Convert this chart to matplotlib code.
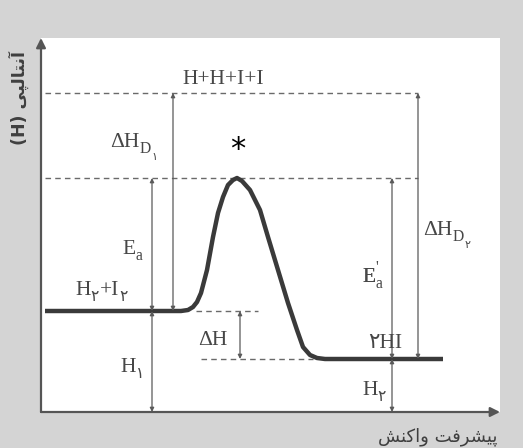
import matplotlib.pyplot as plt

# energy levels (arbitrary units, 0 = bottom of axis)
E_ATOMS = 319      # H+H+I+I
E_TS = 234         # transition state
E_REACT = 101      # H2 + I2
E_PROD = 53        # 2HI
Y_TOP = 374
X_END = 459

# reaction profile
curve_x = [4, 140, 147, 152, 156, 160, 166, 172, 177, 182, 187, 192, 196, 201, 209,
           219, 227, 237, 247, 256, 262, 269, 276, 284, 402]
curve_y = [101, 101, 102, 105, 110, 119, 142, 175, 199, 215, 227, 232, 234, 231, 222,
           202, 175, 142, 109, 82, 65, 57, 54, 53, 53]

# x positions of the vertical arrows
X_EA, X_HD1, X_DH, X_EA2, X_HD2 = 111, 132, 199, 351, 377

SERIF = ["Liberation Serif", "DejaVu Sans"]
TXT = "#474747"
DASH = "#6a6a6a"

FORMS = {
    "آ": ("\uFE81", "\uFE82", None, None),
    "ا": ("\uFE8D", "\uFE8E", None, None),
    "ن": ("\uFEE5", "\uFEE6", "\uFEE7", "\uFEE8"),
    "ت": ("\uFE95", "\uFE96", "\uFE97", "\uFE98"),
    "ل": ("\uFEDD", "\uFEDE", "\uFEDF", "\uFEE0"),
    "پ": ("\uFB56", "\uFB57", "\uFB58", "\uFB59"),
    "ی": ("\uFBFC", "\uFBFD", "\uFBFE", "\uFBFF"),
    "ش": ("\uFEB5", "\uFEB6", "\uFEB7", "\uFEB8"),
    "ر": ("\uFEAD", "\uFEAE", None, None),
    "ف": ("\uFED1", "\uFED2", "\uFED3", "\uFED4"),
    "و": ("\uFEED", "\uFEEE", None, None),
    "ک": ("\uFB8E", "\uFB8F", "\uFB90", "\uFB91"),
}


def shape(text):
    # crude arabic-script shaping + visual reorder (matplotlib has no bidi)
    out = []
    for i, c in enumerate(text):
        if c not in FORMS:
            out.append(c)
            continue
        iso, fin, ini, med = FORMS[c]
        prev = text[i - 1] if i > 0 else None
        nxt = text[i + 1] if i + 1 < len(text) else None
        jp = prev in FORMS and FORMS[prev][2] is not None
        jn = ini is not None and nxt in FORMS
        out.append(med if jp and jn else fin if jp else ini if jn else iso)
    return "".join(out)[::-1]


fig = plt.figure(figsize=(5.23, 4.48), dpi=100, facecolor="#d4d4d4")
ax = fig.add_axes([41 / 523, 36 / 448, 459 / 523, 374 / 448])
ax.set_facecolor("white")
ax.set_xlim(0, X_END)
ax.set_ylim(0, Y_TOP)
for sp in ax.spines.values():
    sp.set_visible(False)
ax.set_xticks([])
ax.set_yticks([])


def label(x, y, parts, size=15.5):
    t = ax.text(x, y, parts[0][0], fontsize=size, family=SERIF, color=TXT, va="baseline", ha="left")
    prev = t
    for s, lvl in parts[1:]:
        fs = size * (0.72 ** abs(lvl))
        dy = {0: 0, 1: -4.5, 2: -9, -1: 7}[lvl]
        prev = ax.annotate(s, xy=(1, y), xycoords=(prev, "data"), xytext=(0.3, dy),
                           textcoords="offset points", fontsize=fs, family=SERIF,
                           color=TXT, va="baseline", ha="left")
    return t


def varrow(x, y0, y1):
    ax.annotate("", xy=(x, y1), xytext=(x, y0),
                arrowprops=dict(arrowstyle="<|-|>", color="#5a5a5a", lw=0.9,
                                mutation_scale=6, shrinkA=0, shrinkB=0))


# axes with arrow heads
ax.annotate("", xy=(0, Y_TOP), xytext=(0, 0), annotation_clip=False,
            arrowprops=dict(arrowstyle="-|>", color="#555555", lw=1.6, mutation_scale=14, shrinkA=0, shrinkB=0))
ax.annotate("", xy=(X_END, 0), xytext=(0, 0), annotation_clip=False,
            arrowprops=dict(arrowstyle="-|>", color="#555555", lw=1.6, mutation_scale=14, shrinkA=0, shrinkB=0))

# dashed guide lines
ax.plot([4, X_HD2], [E_ATOMS, E_ATOMS], ls=(0, (4, 3)), color=DASH, lw=1)
ax.plot([4, X_HD2], [E_TS, E_TS], ls=(0, (4, 3)), color=DASH, lw=1)
ax.plot([155, 217], [E_REACT, E_REACT], ls=(0, (4, 3)), color=DASH, lw=1)
ax.plot([160, 272], [E_PROD, E_PROD], ls=(0, (4, 3)), color=DASH, lw=1)

# profile
ax.plot(curve_x, curve_y, color="#3a3a3a", lw=3.2, solid_capstyle="butt", solid_joinstyle="round")

# arrows
varrow(X_EA, E_REACT, E_TS)
varrow(X_EA, 0, E_REACT)
varrow(X_HD1, E_REACT, E_ATOMS)
varrow(X_DH, E_PROD, E_REACT)
varrow(X_EA2, E_PROD, E_TS)
varrow(X_EA2, 0, E_PROD)
varrow(X_HD2, E_PROD, E_ATOMS)

# labels
label(141, 328, [("H+H+I+I", 0)])
label(69, 265, [("ΔH", 0), ("D", 1), ("۱", 2)])
ax.text(197, 262, "*", fontsize=22, family="DejaVu Sans", color="black", ha="center", va="center")
label(81, 158, [("E", 0), ("a", 1)])
label(34, 117, [("H", 0), ("۲", 1), ("+I", 0), ("۲", 1)])
label(79, 40, [("H", 0), ("۱", 1)])
label(157, 67, [("ΔH", 0)])
label(321, 130, [("E", 0), ("'", -1)])
label(321, 130, [("E", 0), ("a", 1)])
label(382, 177, [("ΔH", 0), ("D", 1), ("۲", 2)])
ax.text(327, 64, "۲HI", fontsize=15.5, family=SERIF, color=TXT, va="baseline", ha="left")
label(321, 17, [("H", 0), ("۲", 1)])

# axis titles (persian)
fig.text(497 / 523, 1 - 437 / 448, shape("پیشرفت واکنش"), fontsize=13, family="DejaVu Sans",
         color="#3f3f3f", ha="right", va="center")
fig.text(19 / 523, 1 - 98 / 448, "(H) " + shape("آنتالپی"), fontsize=12.5, family="DejaVu Sans",
         fontweight="bold", color="#3f3f3f", rotation=90, ha="center", va="center")

fig.savefig("out.png", dpi=100, facecolor=fig.get_facecolor())
